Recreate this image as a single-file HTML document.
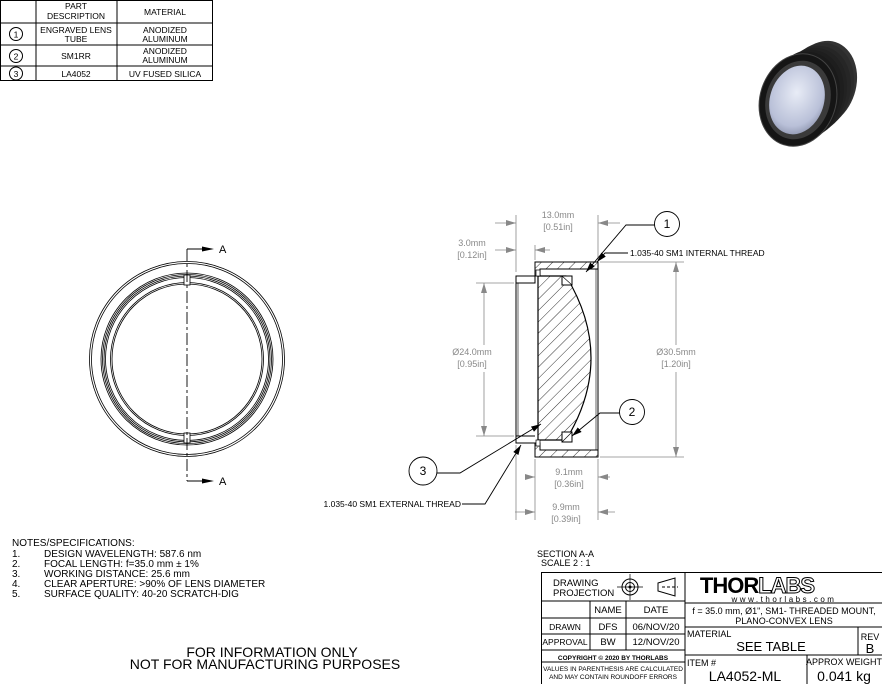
<!DOCTYPE html>
<html><head><meta charset="utf-8"><style>
html,body{margin:0;padding:0;background:#fff;}
svg{display:block;font-family:"Liberation Sans",sans-serif;}
</style></head><body>
<svg width="882" height="684" viewBox="0 0 882 684" xmlns="http://www.w3.org/2000/svg">
<defs>
<pattern id="hatch" patternUnits="userSpaceOnUse" width="8" height="8" patternTransform="rotate(45)">
<line x1="0" y1="0" x2="0" y2="8" stroke="#000" stroke-width="0.8"/>
</pattern>
<radialGradient id="lens" cx="0.45" cy="0.4" r="0.7">
<stop offset="0" stop-color="#e8ecf6"/><stop offset="0.7" stop-color="#b9c0d8"/><stop offset="1" stop-color="#7f86a0"/>
</radialGradient>
<marker id="ar" markerWidth="10" markerHeight="6" refX="10" refY="3" orient="auto" markerUnits="userSpaceOnUse"><path d="M0,0 L10,3 L0,6z" fill="#888"/></marker>
<marker id="ak" markerWidth="10" markerHeight="6" refX="10" refY="3" orient="auto" markerUnits="userSpaceOnUse"><path d="M0,0 L10,3 L0,6z" fill="#000"/></marker>
</defs>

<!-- Parts table -->
<g stroke="#000" stroke-width="1" fill="none">
<rect x="0.5" y="0.5" width="212" height="80"/>
<line x1="36" y1="0" x2="36" y2="81"/>
<line x1="117" y1="0" x2="117" y2="81"/>
<line x1="0" y1="23" x2="213" y2="23"/>
<line x1="0" y1="45" x2="213" y2="45"/>
<line x1="0" y1="66" x2="213" y2="66"/>
<circle cx="16" cy="34" r="6.5"/><circle cx="16" cy="56" r="6.5"/><circle cx="16" cy="73.5" r="6.5"/>
</g>
<g font-size="8.5" text-anchor="middle" fill="#000">
<text x="76" y="9">PART</text><text x="76" y="19">DESCRIPTION</text>
<text x="165" y="15">MATERIAL</text>
<text x="76" y="33">ENGRAVED LENS</text><text x="76" y="42">TUBE</text>
<text x="165" y="33">ANODIZED</text><text x="165" y="42">ALUMINUM</text>
<text x="76" y="59">SM1RR</text>
<text x="165" y="54">ANODIZED</text><text x="165" y="63">ALUMINUM</text>
<text x="76" y="77">LA4052</text><text x="165" y="77">UV FUSED SILICA</text>
<text x="16" y="37.5">1</text><text x="16" y="59.5">2</text><text x="16" y="77">3</text>
</g>

<!-- Product image -->
<g>
<ellipse cx="822" cy="84" rx="34" ry="44" transform="rotate(18 822 84)" fill="#333"/>
<ellipse cx="818" cy="87" rx="35" ry="45" transform="rotate(18 818 87)" fill="#2c2c2c"/>
<ellipse cx="814" cy="90" rx="36" ry="45" transform="rotate(18 814 90)" fill="#262626"/>
<ellipse cx="810" cy="93" rx="36" ry="46" transform="rotate(18 810 93)" fill="#222"/>
<ellipse cx="806" cy="95" rx="37" ry="46" transform="rotate(18 806 95)" fill="#1e1e1e"/>
<ellipse cx="802" cy="98" rx="37" ry="47" transform="rotate(18 802 98)" fill="#1a1a1a"/>
<ellipse cx="798" cy="100" rx="38" ry="47" transform="rotate(18 798 100)" fill="#151515" stroke="#444" stroke-width="1"/>
<ellipse cx="798" cy="100" rx="32" ry="40" transform="rotate(18 798 100)" fill="#3a3a3a"/>
<ellipse cx="797" cy="100" rx="27" ry="35" transform="rotate(18 797 100)" fill="url(#lens)"/>
</g>

<!-- Front view circles -->
<g fill="none" stroke="#000" stroke-width="0.8">
<circle cx="187" cy="359" r="97.5"/><circle cx="187" cy="359" r="95.5"/>
<circle cx="187" cy="359" r="86"/><circle cx="187" cy="359" r="84.5"/><circle cx="187" cy="359" r="83"/><circle cx="187" cy="359" r="81.5"/>
<circle cx="187" cy="359" r="76.5"/><circle cx="187" cy="359" r="75"/>
<rect x="184" y="275" width="6" height="10" fill="#fff"/>
<rect x="184" y="433" width="6" height="10" fill="#fff"/>
</g>
<g stroke="#000" stroke-width="0.9" fill="none">
<line x1="187" y1="249" x2="187" y2="481" stroke-dasharray="12,3,3,3"/>
<line x1="187" y1="249" x2="212" y2="249"/>
<line x1="187" y1="481" x2="212" y2="481"/>
</g>
<path d="M202,246.5 L214,249 L202,251.5z M202,478.5 L214,481 L202,483.5z" fill="#000"/>
<text x="219" y="253" font-size="11">A</text>
<text x="219" y="485" font-size="11">A</text>

<!-- Section view -->
<g stroke="#000" stroke-width="1">
<path d="M535,262 L598,262 L598,269 L540,269 L540,276 L535,276 Z" fill="url(#hatch)"/>
<path d="M535,457 L598,457 L598,450 L540,450 L540,443 L535,443 Z" fill="url(#hatch)"/>
<line x1="598" y1="262" x2="598" y2="457"/>
<line x1="596" y1="269" x2="596" y2="450" stroke-width="0.6"/>
<path d="M516,276 L535,276 L535,283 L516,283 Z" fill="#fff"/>
<path d="M516,283 L535,283 M516,276 L516,443 L535,443 M516,436 L535,436" fill="none"/>
<line x1="518" y1="283" x2="518" y2="436" stroke-width="0.6"/>
<path d="M538,276 L566,276 Q616,358 566,440 L538,440 Z" fill="url(#hatch)" stroke-width="1.2"/>
<rect x="562" y="276" width="10" height="9" fill="#fff"/>
<rect x="562" y="432" width="10" height="10" fill="#fff"/>
<line x1="562" y1="276" x2="572" y2="285" stroke-width="0.6"/>
<line x1="562" y1="442" x2="572" y2="432" stroke-width="0.6"/>
<rect x="536" y="270" width="4" height="6" fill="#fff" stroke-width="0.7"/>
<rect x="536" y="440" width="4" height="6" fill="#fff" stroke-width="0.7"/>
</g>

<!-- dimensions -->
<g stroke="#888" stroke-width="0.8" fill="none">
<line x1="516" y1="215" x2="516" y2="272"/>
<line x1="598" y1="215" x2="598" y2="260"/>
<line x1="495" y1="223" x2="516" y2="223" marker-end="url(#ar)"/>
<line x1="620" y1="223" x2="598" y2="223" marker-end="url(#ar)"/>
<line x1="495" y1="250" x2="516" y2="250" marker-end="url(#ar)"/>
<line x1="550" y1="250" x2="535" y2="250" marker-end="url(#ar)"/>
<line x1="535" y1="245" x2="535" y2="260"/>
<line x1="476" y1="283" x2="514" y2="283"/>
<line x1="476" y1="436" x2="514" y2="436"/>
<line x1="484" y1="345" x2="484" y2="283" marker-end="url(#ar)"/>
<line x1="484" y1="372" x2="484" y2="436" marker-end="url(#ar)"/>
<line x1="600" y1="262" x2="684" y2="262"/>
<line x1="600" y1="457" x2="684" y2="457"/>
<line x1="676" y1="345" x2="676" y2="262" marker-end="url(#ar)"/>
<line x1="676" y1="372" x2="676" y2="457" marker-end="url(#ar)"/>
<line x1="535" y1="459" x2="535" y2="520"/>
<line x1="598" y1="459" x2="598" y2="520"/>
<line x1="516" y1="445" x2="516" y2="520"/>
<line x1="525" y1="477" x2="535" y2="477" marker-end="url(#ar)"/>
<line x1="610" y1="477" x2="598" y2="477" marker-end="url(#ar)"/>
<line x1="515" y1="512" x2="535" y2="512" marker-end="url(#ar)"/>
<line x1="615" y1="512" x2="598" y2="512" marker-end="url(#ar)"/>
</g>
<g font-size="9" fill="#888" text-anchor="middle">
<text x="558" y="218">13.0mm</text><text x="558" y="230">[0.51in]</text>
<text x="472" y="246">3.0mm</text><text x="472" y="258">[0.12in]</text>
<text x="472" y="355">Ø24.0mm</text><text x="472" y="367">[0.95in]</text>
<text x="676" y="355">Ø30.5mm</text><text x="676" y="367">[1.20in]</text>
<text x="569" y="475">9.1mm</text><text x="569" y="487">[0.36in]</text>
<text x="566" y="510">9.9mm</text><text x="566" y="522">[0.39in]</text>
</g>

<g stroke="#000" stroke-width="0.9" fill="none">
<circle cx="667" cy="224" r="12.5"/>
<circle cx="632" cy="412" r="12.5"/>
<circle cx="423" cy="471" r="14"/>
<path d="M655,225 L626,225 L586,272" marker-end="url(#ak)"/>
<path d="M628,253 L605,253 L597,262" marker-end="url(#ak)"/>
<path d="M620,413 L600,413 L572,436" marker-end="url(#ak)"/>
<path d="M437,473 L460,473 L541,424" marker-end="url(#ak)"/>
<path d="M462,504 L485,504 L521,445" marker-end="url(#ak)"/>
</g>
<g font-size="12" text-anchor="middle"><text x="667" y="228">1</text><text x="632" y="416">2</text><text x="423" y="475">3</text></g>
<text x="630" y="256" font-size="8.5">1.035-40 SM1 INTERNAL THREAD</text>
<text x="461" y="507" font-size="8.5" text-anchor="end">1.035-40 SM1 EXTERNAL THREAD</text>

<!-- notes -->
<g font-size="10" fill="#000">
<text x="12" y="546">NOTES/SPECIFICATIONS:</text>
<text x="12" y="557">1.</text><text x="44" y="557">DESIGN WAVELENGTH: 587.6 nm</text>
<text x="12" y="567">2.</text><text x="44" y="567">FOCAL LENGTH: f=35.0 mm ± 1%</text>
<text x="12" y="577">3.</text><text x="44" y="577">WORKING DISTANCE: 25.6 mm</text>
<text x="12" y="587">4.</text><text x="44" y="587">CLEAR APERTURE: &gt;90% OF LENS DIAMETER</text>
<text x="12" y="597">5.</text><text x="44" y="597">SURFACE QUALITY: 40-20 SCRATCH-DIG</text>
</g>
<g font-size="14" text-anchor="middle"><text x="272" y="657">FOR INFORMATION ONLY</text><text x="265" y="669">NOT FOR MANUFACTURING PURPOSES</text></g>

<!-- title block -->
<text x="537" y="557" font-size="9">SECTION A-A</text>
<text x="541" y="566" font-size="9">SCALE 2 : 1</text>
<g stroke="#000" stroke-width="1" fill="none">
<rect x="541.5" y="572.5" width="341" height="112"/>
<line x1="685" y1="572" x2="685" y2="684"/>
<line x1="541" y1="601" x2="685" y2="601"/>
<line x1="541" y1="618" x2="685" y2="618"/>
<line x1="541" y1="634" x2="685" y2="634"/>
<line x1="541" y1="650" x2="685" y2="650"/>
<line x1="541" y1="662" x2="685" y2="662"/>
<line x1="590" y1="601" x2="590" y2="650"/>
<line x1="626" y1="601" x2="626" y2="650"/>
<line x1="685" y1="603" x2="882" y2="603"/>
<line x1="685" y1="627" x2="882" y2="627"/>
<line x1="685" y1="655" x2="882" y2="655"/>
<line x1="858" y1="627" x2="858" y2="655"/>
<line x1="807" y1="655" x2="807" y2="684"/>
<circle cx="630" cy="587" r="8"/><circle cx="630" cy="587" r="4.5"/>
<line x1="617" y1="587" x2="643" y2="587" stroke-width="0.7"/>
<line x1="630" y1="574" x2="630" y2="600" stroke-width="0.7"/>
<path d="M658,583 L675,578 L675,596 L658,591 Z"/>
<line x1="662" y1="587" x2="678" y2="587" stroke-dasharray="3,2"/>
</g>
<circle cx="630" cy="587" r="1.5" fill="#000"/>
<g font-size="9.5" fill="#000">
<text x="553" y="586">DRAWING</text><text x="553" y="596">PROJECTION</text>
<text x="608" y="613" text-anchor="middle">NAME</text><text x="656" y="613" text-anchor="middle">DATE</text>
<text x="565" y="630" text-anchor="middle" font-size="8.5">DRAWN</text><text x="608" y="630" text-anchor="middle">DFS</text><text x="656" y="630" text-anchor="middle">06/NOV/20</text>
<text x="565" y="645" text-anchor="middle" font-size="8.5">APPROVAL</text><text x="608" y="645" text-anchor="middle">BW</text><text x="656" y="645" text-anchor="middle">12/NOV/20</text>
<text x="613" y="660" text-anchor="middle" font-size="6.5" font-weight="bold">COPYRIGHT © 2020 BY THORLABS</text>
<text x="613" y="671" text-anchor="middle" font-size="6.5">VALUES IN PARENTHESIS ARE CALCULATED</text>
<text x="613" y="679" text-anchor="middle" font-size="6.5">AND MAY CONTAIN ROUNDOFF ERRORS</text>
<text x="757" y="593" text-anchor="middle" font-size="22" font-weight="bold" letter-spacing="-1">THOR<tspan fill="#fff" stroke="#000" stroke-width="1">LABS</tspan></text>
<text x="784" y="602" text-anchor="middle" font-size="8" letter-spacing="2.5">www.thorlabs.com</text>
<text x="784" y="614" text-anchor="middle" font-size="9">f = 35.0 mm, Ø1", SM1- THREADED MOUNT,</text>
<text x="784" y="624" text-anchor="middle" font-size="9">PLANO-CONVEX LENS</text>
<text x="687" y="637" font-size="9">MATERIAL</text>
<text x="771" y="651" text-anchor="middle" font-size="13">SEE TABLE</text>
<text x="870" y="640" text-anchor="middle" font-size="9">REV</text>
<text x="870" y="653" text-anchor="middle" font-size="13">B</text>
<text x="687" y="666" font-size="9">ITEM #</text>
<text x="745" y="681" text-anchor="middle" font-size="14">LA4052-ML</text>
<text x="844" y="665" text-anchor="middle" font-size="9">APPROX WEIGHT</text>
<text x="844" y="681" text-anchor="middle" font-size="14">0.041 kg</text>
</g>
</svg>
</body></html>
